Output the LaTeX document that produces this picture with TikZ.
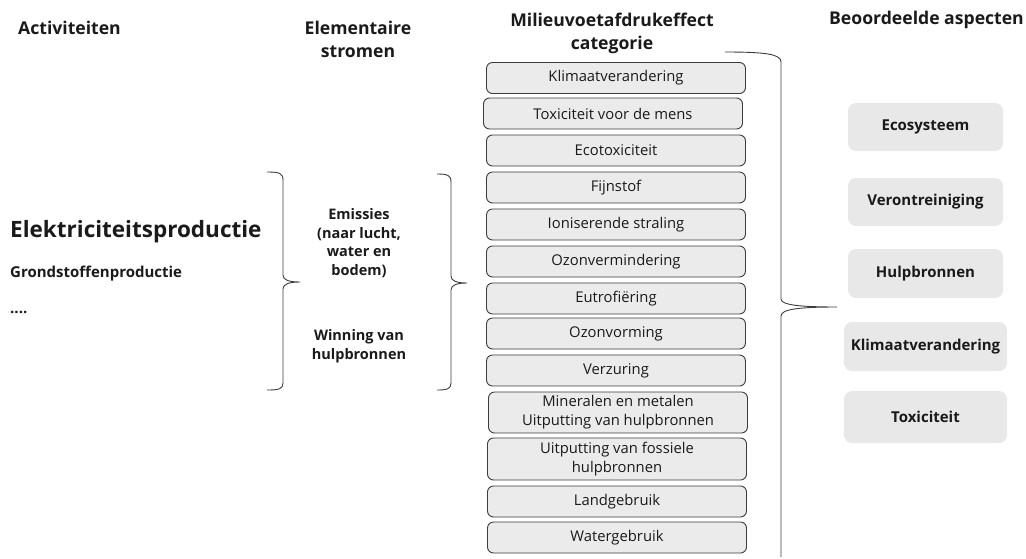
\documentclass[tikz,border=0pt]{standalone}
\usepackage{fontspec}
\setmainfont{Open Sans}
\definecolor{boxfill}{HTML}{EBEBEB}
\definecolor{boxline}{HTML}{3C3C3C}
\definecolor{aspfill}{HTML}{E8E8E8}
\definecolor{txt}{HTML}{1A1A1A}
\begin{document}
\begin{tikzpicture}[x=1pt,y=-1pt,
  hdr/.style={font=\fontsize{17.6}{23}\selectfont\bfseries, text=txt, align=center, inner sep=0},
  cat/.style={draw=boxline, fill=boxfill, rounded corners=6pt, line width=0.9pt,
     minimum width=259pt, minimum height=31pt, inner sep=0, align=center,
     font=\fontsize{14.8}{19}\selectfont, text=txt},
  asp/.style={fill=aspfill, rounded corners=8pt, minimum width=155pt, minimum height=48pt,
     inner sep=0, font=\fontsize{15}{18}\selectfont\bfseries, text=txt},
  midtxt/.style={font=\fontsize{14.5}{18.5}\selectfont\bfseries, text=txt, align=center, inner sep=0},
  brace/.style={draw=boxline, line width=0.9pt}]
\useasboundingbox (0,0) rectangle (1026,558);
% headers
\node[hdr, anchor=west] (hA) at (18,28) {Activiteiten};
\node[hdr] (hE) at (358,39) {Elementaire\\stromen};
\node[hdr] (hM) at (612,33) {Milieuvoetafdrukeffect\\categorie};
\node[hdr, anchor=east] (hB) at (1024,20) {Beoordeelde aspecten};
% activities
\node[anchor=west, inner sep=0, font=\fontsize{22.5}{26}\selectfont\bfseries, text=txt] (a1) at (10,232) {Elektriciteitsproductie};
\node[anchor=west, inner sep=0, font=\fontsize{15}{18}\selectfont\bfseries, text=txt] (a2) at (10,274) {Grondstoffenproductie};
\node[anchor=west, inner sep=0, font=\fontsize{15}{18}\selectfont\bfseries, text=txt] (a3) at (10,312) {....};
% elementary flows
\node[midtxt] (e1) at (359,243) {Emissies\\(naar lucht,\\water en\\bodem)};
\node[midtxt] (e2) at (359,346) {Winning van\\hulpbronnen};
% category boxes
\node[cat] (c1) at (616,78) {Klimaatverandering};
\node[cat] (c2) at (613,113.5) {Toxiciteit voor de mens};
\node[cat] (c3) at (616,150.5) {Ecotoxiciteit};
\node[cat] (c4) at (616,187.5) {Fijnstof};
\node[cat] (c5) at (616,224.5) {Ioniserende straling};
\node[cat] (c6) at (616,261.5) {Ozonvermindering};
\node[cat] (c7) at (616,298.5) {Eutrofiëring};
\node[cat] (c8) at (616,333.5) {Ozonvorming};
\node[cat] (c9) at (616,370.5) {Verzuring};
\node[cat, minimum height=41pt] (c10) at (618,412.5) {Mineralen en metalen\\Uitputting van hulpbronnen};
\node[cat, minimum height=42pt] (c11) at (617,459) {Uitputting van fossiele\\hulpbronnen};
\node[cat] (c12) at (617,501.5) {Landgebruik};
\node[cat] (c13) at (617,537.5) {Watergebruik};
% assessed aspects
\node[asp] (r1) at (925.5,127) {Ecosysteem};
\node[asp] (r2) at (925.5,202) {Verontreiniging};
\node[asp, minimum height=49pt] (r3) at (925.5,273.5) {Hulpbronnen};
\node[asp, minimum width=163pt, minimum height=49pt] (r4) at (925.5,346.5) {Klimaatverandering};
\node[asp, minimum width=163pt, minimum height=52pt] (r5) at (925.5,417) {Toxiciteit};
% braces
\coordinate (b1top) at (267,172);
\coordinate (b1tip) at (300,282);
\coordinate (b1bot) at (267,390);
\draw[brace] (b1top) .. controls (279,172) and (283,173) .. (283,180) -- (283,275)
  .. controls (283,280) and (289,282) .. (b1tip)
  .. controls (289,282) and (283,284) .. (283,289) -- (283,383)
  .. controls (283,389) and (279,390) .. (b1bot);
\coordinate (b2top) at (437,174);
\coordinate (b2tip) at (467,283);
\coordinate (b2bot) at (437,390);
\draw[brace] (b2top) .. controls (447,174) and (451,175) .. (451,182) -- (451,276)
  .. controls (451,281) and (457,283) .. (b2tip)
  .. controls (457,283) and (451,285) .. (451,290) -- (451,383)
  .. controls (451,389) and (447,390) .. (b2bot);
\coordinate (b3top) at (725,52);
\coordinate (b3tip) at (837,307);
\coordinate (b3bot) at (781,557);
\draw[brace] (b3top) .. controls (765,52) and (781,54) .. (781,62) -- (781,299)
  .. controls (781,305) and (800,307) .. (b3tip)
  .. controls (800,307) and (781,309) .. (781,316) -- (b3bot);
\end{tikzpicture}
\end{document}
